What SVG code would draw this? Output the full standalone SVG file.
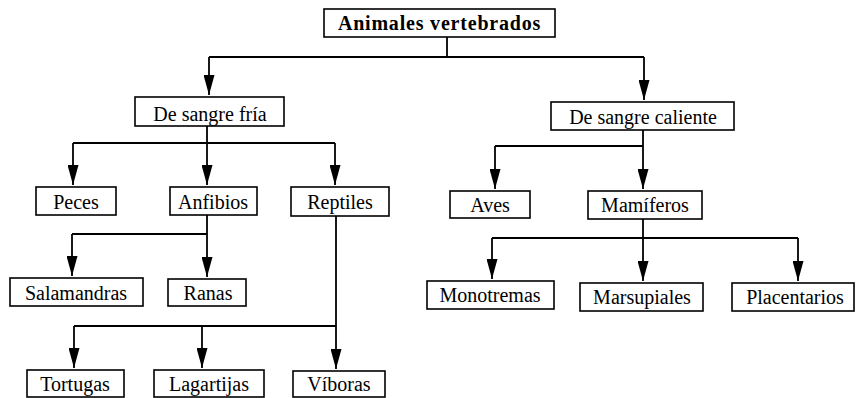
<svg xmlns="http://www.w3.org/2000/svg" width="856" height="398" viewBox="0 0 856 398">
<defs>
<marker id="ah" viewBox="0 0 20 11" refX="20" refY="5.5" markerWidth="20" markerHeight="11" markerUnits="userSpaceOnUse" orient="auto">
<path d="M0,0 L20,5.5 L0,11 Z" fill="#000"/>
</marker>
<style>
rect{fill:#fff;stroke:#000;stroke-width:1.6}
text{font-family:'Liberation Serif','DejaVu Serif',serif;font-size:20px;text-anchor:middle;fill:#000}
.b{font-weight:bold;letter-spacing:0.8px}
.c{fill:none;stroke:#000;stroke-width:1.8}
</style>
</defs>
<g id="connectors">
<path class="c" d="M447,37 V57 M209,57 H644"/>
<path class="c" d="M209,57 V95" marker-end="url(#ah)"/>
<path class="c" d="M644,57 V100" marker-end="url(#ah)"/>
<path class="c" d="M207,126 V143 M73,143 H335"/>
<path class="c" d="M73,143 V185" marker-end="url(#ah)"/>
<path class="c" d="M207,143 V185" marker-end="url(#ah)"/>
<path class="c" d="M335,143 V185" marker-end="url(#ah)"/>
<path class="c" d="M643,130 V146 M495,146 H643"/>
<path class="c" d="M495,146 V189" marker-end="url(#ah)"/>
<path class="c" d="M643,146 V189" marker-end="url(#ah)"/>
<path class="c" d="M207,215 V234 M72,234 H207"/>
<path class="c" d="M72,234 V276" marker-end="url(#ah)"/>
<path class="c" d="M207,234 V277" marker-end="url(#ah)"/>
<path class="c" d="M336,216 V326 M74,326 H336"/>
<path class="c" d="M74,326 V368" marker-end="url(#ah)"/>
<path class="c" d="M202,326 V368" marker-end="url(#ah)"/>
<path class="c" d="M336,326 V369" marker-end="url(#ah)"/>
<path class="c" d="M643,219 V238 M492,238 H798"/>
<path class="c" d="M492,238 V279" marker-end="url(#ah)"/>
<path class="c" d="M643,238 V281" marker-end="url(#ah)"/>
<path class="c" d="M798,238 V281" marker-end="url(#ah)"/>
</g>
<g id="n-animales"><rect x="324" y="9" width="231" height="28"/><text class="b" x="439.5" y="30">Animales vertebrados</text></g>
<g id="n-fria"><rect x="135" y="97" width="149" height="29"/><text x="210" y="121">De sangre fría</text></g>
<g id="n-caliente"><rect x="551" y="102" width="183" height="28"/><text x="643" y="124">De sangre caliente</text></g>
<g id="n-peces"><rect x="36" y="187" width="80" height="28"/><text x="76" y="209">Peces</text></g>
<g id="n-anfibios"><rect x="170" y="187" width="87" height="28"/><text x="213" y="209">Anfibios</text></g>
<g id="n-reptiles"><rect x="291" y="187" width="98" height="29"/><text x="340" y="209">Reptiles</text></g>
<g id="n-aves"><rect x="450" y="191" width="80" height="27"/><text x="490" y="212">Aves</text></g>
<g id="n-mamiferos"><rect x="588" y="191" width="114" height="28"/><text x="645" y="212">Mamíferos</text></g>
<g id="n-salamandras"><rect x="10" y="278" width="133" height="28"/><text x="76" y="300">Salamandras</text></g>
<g id="n-ranas"><rect x="168" y="279" width="78" height="27"/><text x="208" y="300">Ranas</text></g>
<g id="n-monotremas"><rect x="427" y="281" width="127" height="28"/><text x="490" y="302">Monotremas</text></g>
<g id="n-marsupiales"><rect x="580" y="283" width="123" height="28"/><text x="642" y="304">Marsupiales</text></g>
<g id="n-placentarios"><rect x="732" y="283" width="122" height="28"/><text x="795" y="304">Placentarios</text></g>
<g id="n-tortugas"><rect x="27" y="370" width="97" height="27"/><text x="75" y="391">Tortugas</text></g>
<g id="n-lagartijas"><rect x="154" y="370" width="110" height="27"/><text x="209" y="391">Lagartijas</text></g>
<g id="n-viboras"><rect x="293" y="371" width="92" height="26"/><text x="339" y="391">Víboras</text></g>
</svg>
